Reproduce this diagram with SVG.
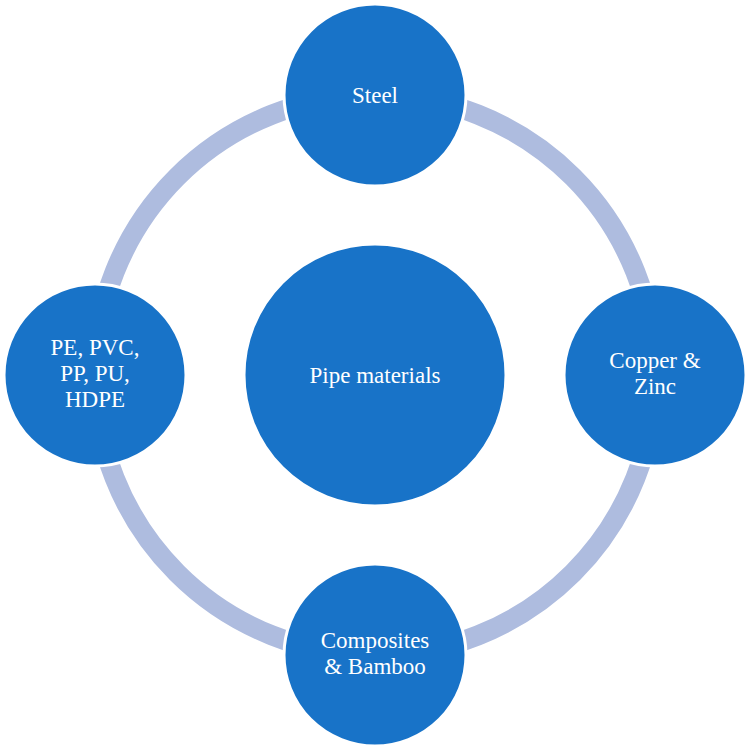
<svg xmlns="http://www.w3.org/2000/svg" width="750" height="749" viewBox="0 0 750 749">
<style>
.n{fill:#1873C8;stroke:#fff;stroke-width:3}
.t{fill:#fff;font-family:"Liberation Serif",serif;font-size:23px;text-anchor:middle}
</style>
<rect width="750" height="749" fill="#fff"/>
<g id="connectors"><circle cx="375" cy="375" r="280" fill="none" stroke="#AEBCDF" stroke-width="20"/></g>
<g id="center"><circle class="n" cx="375" cy="375" r="131"/><text class="t" x="375" y="383">Pipe materials</text></g>
<g id="steel"><circle class="n" cx="375" cy="95" r="91"/><text class="t" x="375" y="103">Steel</text></g>
<g id="copper"><circle class="n" cx="655" cy="375" r="91"/><text class="t" x="655" y="368">Copper &amp;</text><text class="t" x="655" y="394">Zinc</text></g>
<g id="composites"><circle class="n" cx="375" cy="655" r="91"/><text class="t" x="375" y="648">Composites</text><text class="t" x="375" y="674">&amp; Bamboo</text></g>
<g id="plastics"><circle class="n" cx="95" cy="375" r="91"/><text class="t" x="95" y="355">PE, PVC,</text><text class="t" x="95" y="381">PP, PU,</text><text class="t" x="95" y="407">HDPE</text></g>
</svg>
